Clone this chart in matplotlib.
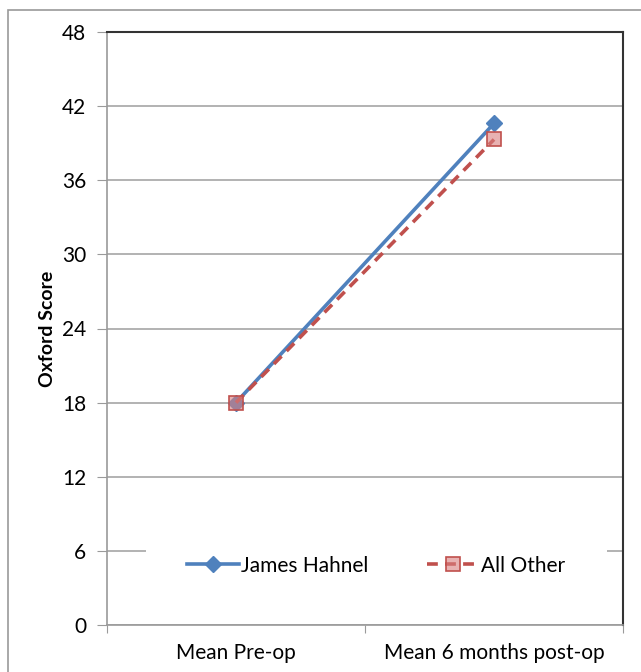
import matplotlib.pyplot as plt
from matplotlib.patches import Rectangle

# data
categories = ['Mean Pre-op', 'Mean 6 months post-op']
james_hahnel = [18.0, 40.6]
all_other = [18.0, 39.3]
y_ticks = [0, 6, 12, 18, 24, 30, 36, 42, 48]

plt.rcParams['font.family'] = ['Lato', 'DejaVu Sans']

W, H = 641, 672
fig = plt.figure(figsize=(W / 100, H / 100), dpi=100)

# outer chart-area border (left and top visible)
fig.patches.append(Rectangle((8 / W, -0.1), 1.2, 1 - 10 / H + 0.1,
                             transform=fig.transFigure, fill=False,
                             edgecolor='#9a9a9a', linewidth=1.2))

left, right, top, bottom = 107, 623, 32, 625
ax = fig.add_axes([left / W, 1 - bottom / H, (right - left) / W, (bottom - top) / H])

x = [0.5, 1.5]
ax.plot(x, james_hahnel, color='#4F81BD', linewidth=2.6, marker='D',
        markersize=8, markerfacecolor='#4F81BD', markeredgecolor='#4F81BD',
        label='James Hahnel', zorder=3)
ax.plot(x, all_other, color='#C0504D', linewidth=2.6, linestyle=(0, (3, 2)),
        marker='s', markersize=10, markerfacecolor=(0.85, 0.5, 0.5, 0.6),
        markeredgecolor='#C0504D', markeredgewidth=1.2,
        label='All Other', zorder=4)

ax.set_xlim(0, 2)
ax.set_ylim(0, 48)
ax.set_yticks(y_ticks)
ax.set_yticklabels([str(v) for v in y_ticks])
ax.set_xticks([0, 1, 2])
ax.set_xticklabels([])
ax.set_xticks(x, minor=True)
ax.set_xticklabels(categories, minor=True)
ax.tick_params(axis='x', which='minor', length=0, pad=13, labelsize=15)
ax.tick_params(axis='x', which='major', length=6, color='#9a9a9a', direction='out')
ax.tick_params(axis='y', length=7, color='#9a9a9a', direction='out', pad=8, labelsize=15)

ax.grid(axis='y', color='#a6a6a6', linewidth=1.2)
ax.set_axisbelow(True)
for side in ['left', 'bottom']:
    ax.spines[side].set_color('#9a9a9a')
    ax.spines[side].set_linewidth(1.2)
for side in ['top', 'right']:
    ax.spines[side].set_color('#333333')
    ax.spines[side].set_linewidth(1.5)

ax.set_ylabel('Oxford Score', fontsize=14, fontweight='bold', labelpad=4)

leg = ax.legend(loc='center', bbox_to_anchor=(0.522, 0.1), ncol=2, frameon=True,
                fontsize=15, handlelength=2.5, columnspacing=2.8,
                borderpad=2.0, handletextpad=0.1)
leg.get_frame().set_edgecolor('none')
leg.get_frame().set_facecolor('white')
leg.get_frame().set_alpha(1)

fig.savefig('out.png', dpi=100)
